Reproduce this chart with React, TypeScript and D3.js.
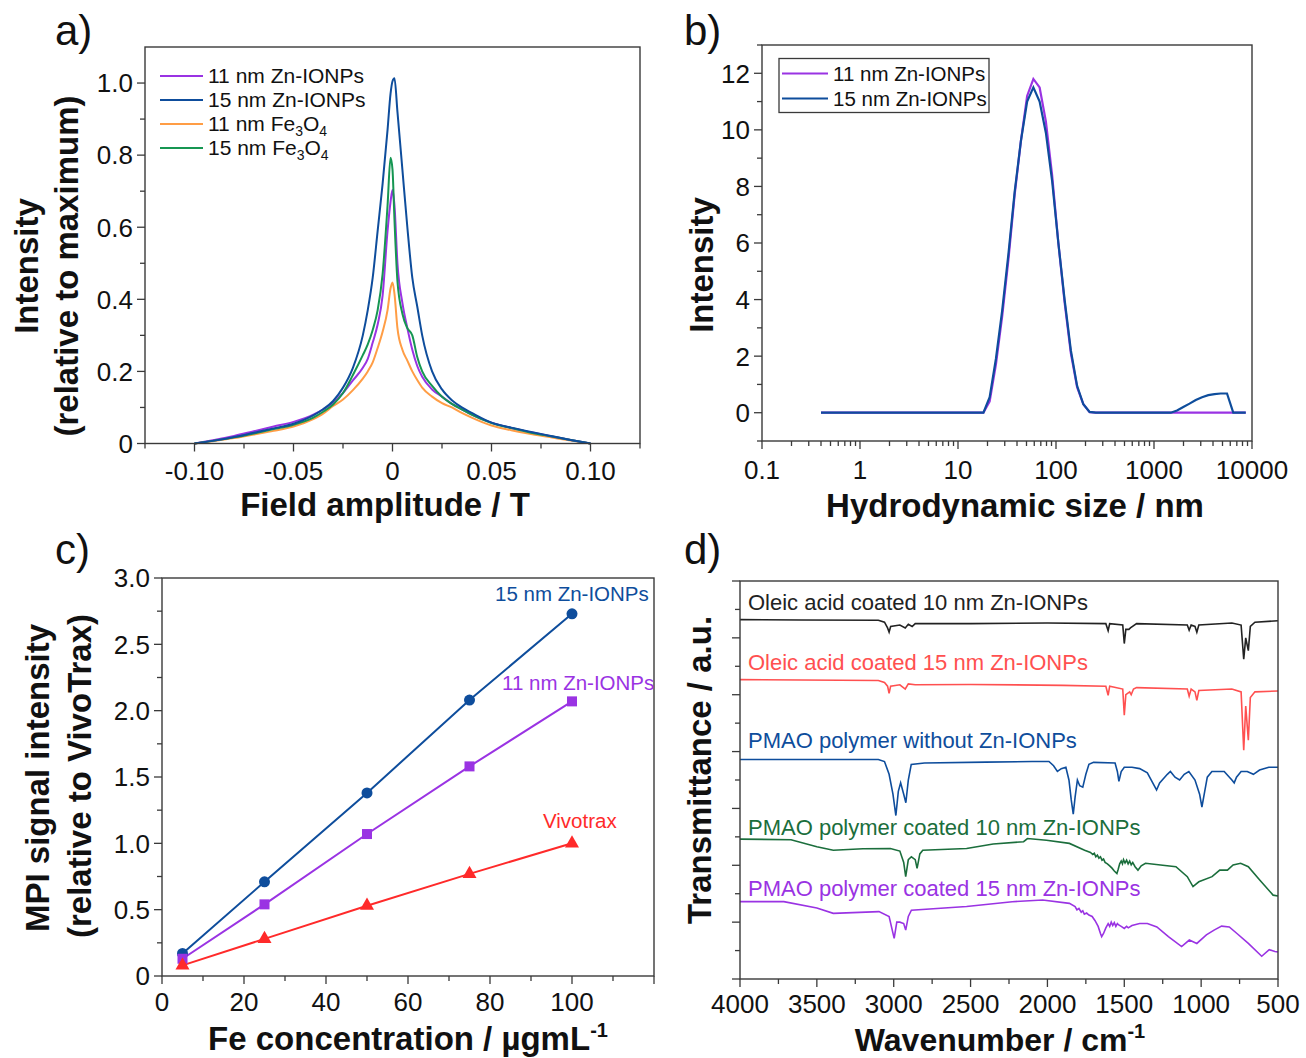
import React from 'react';
import * as d3 from 'd3';

const FONT = '"Liberation Sans", Arial, Helvetica, sans-serif';
const AXIS = '#3a3a3a';

// ---------- a) MPI point spread functions ----------
const fieldT = [-0.1, -0.09, -0.08, -0.07, -0.06, -0.05, -0.04, -0.035, -0.03, -0.025, -0.02, -0.015, -0.0125, -0.01, -0.0075, -0.005, -0.0025, -0.001, 0, 0.001, 0.0025, 0.005, 0.0075, 0.01, 0.0125, 0.015, 0.02, 0.025, 0.03, 0.035, 0.04, 0.05, 0.06, 0.07, 0.08, 0.09, 0.1];
const psfZn11 = [0, 0.01, 0.021, 0.034, 0.047, 0.06, 0.08, 0.095, 0.113, 0.14, 0.175, 0.21, 0.235, 0.28, 0.33, 0.41, 0.59, 0.67, 0.703, 0.66, 0.5, 0.39, 0.32, 0.26, 0.215, 0.185, 0.15, 0.13, 0.11, 0.095, 0.08, 0.058, 0.043, 0.031, 0.02, 0.01, 0];
const psfZn15 = [0, 0.008, 0.018, 0.03, 0.042, 0.055, 0.078, 0.095, 0.118, 0.155, 0.21, 0.3, 0.37, 0.46, 0.59, 0.72, 0.87, 0.97, 1.005, 1.013, 0.92, 0.76, 0.6, 0.46, 0.38, 0.3, 0.2, 0.15, 0.12, 0.1, 0.085, 0.058, 0.044, 0.032, 0.021, 0.01, 0];
const psfFe11 = [0, 0.007, 0.015, 0.025, 0.035, 0.047, 0.068, 0.083, 0.104, 0.122, 0.148, 0.18, 0.2, 0.225, 0.265, 0.31, 0.37, 0.43, 0.447, 0.415, 0.32, 0.26, 0.23, 0.2, 0.176, 0.155, 0.13, 0.112, 0.1, 0.085, 0.072, 0.05, 0.037, 0.026, 0.017, 0.008, 0];
const psfFe15 = [0, 0.008, 0.017, 0.028, 0.04, 0.052, 0.072, 0.088, 0.108, 0.14, 0.19, 0.245, 0.275, 0.315, 0.37, 0.47, 0.66, 0.793, 0.76, 0.62, 0.45, 0.36, 0.32, 0.3, 0.24, 0.2, 0.16, 0.13, 0.11, 0.095, 0.08, 0.057, 0.043, 0.03, 0.02, 0.01, 0];
const aXTicks = [-0.1, -0.05, 0, 0.05, 0.1];
const aXLabels = ['-0.10', '-0.05', '0', '0.05', '0.10'];
const aYTicks = [0, 0.2, 0.4, 0.6, 0.8, 1.0];
const aYLabels = ['0', '0.2', '0.4', '0.6', '0.8', '1.0'];

// ---------- b) DLS size distribution ----------
const sizeNm = [0.4, 18.17, 21.04, 24.36, 28.21, 32.67, 37.84, 43.82, 50.75, 58.77, 68.06, 78.82, 91.28, 105.7, 122.4, 141.8, 164.2, 190.1, 220.2, 255.0, 1484, 1718, 1990, 2305, 2669, 3091, 3580, 4145, 4801, 5560, 6439, 8635];
const dlsZn11 = [0, 0, 0.4, 1.7, 3.4, 5.4, 7.7, 9.6, 11.2, 11.8, 11.5, 10.3, 8.4, 6.0, 3.9, 2.1, 0.9, 0.3, 0.02, 0, 0, 0, 0, 0, 0, 0, 0, 0, 0, 0, 0, 0];
const dlsZn15 = [0, 0, 0.55, 1.9, 3.6, 5.6, 7.8, 9.6, 11.0, 11.5, 11.0, 9.9, 8.2, 6.0, 4.0, 2.2, 0.95, 0.3, 0.03, 0, 0, 0.08, 0.2, 0.32, 0.45, 0.55, 0.62, 0.66, 0.68, 0.68, 0, 0];
const bXTicks = [0.1, 1, 10, 100, 1000, 10000];
const bXLabels = ['0.1', '1', '10', '100', '1000', '10000'];
const bYTicks = [0, 2, 4, 6, 8, 10, 12];

// ---------- c) MPI signal vs Fe concentration ----------
const feConc = [5, 25, 50, 75, 100];
const mpiZn15 = [0.17, 0.71, 1.38, 2.08, 2.73];
const mpiZn11 = [0.13, 0.54, 1.07, 1.58, 2.07];
const mpiVivo = [0.08, 0.28, 0.53, 0.77, 1.0];
const cXTicks = [0, 20, 40, 60, 80, 100];
const cYTicks = [0, 0.5, 1.0, 1.5, 2.0, 2.5, 3.0];
const cYLabels = ['0', '0.5', '1.0', '1.5', '2.0', '2.5', '3.0'];

// ---------- d) FTIR spectra [wavenumber, offset transmittance] ----------
const ftirOleic10: [number, number][] = [[4000, 12.64], [3600, 12.63], [3100, 12.62], [3060, 12.55], [3040, 12.35], [3030, 12.2], [3020, 12.4], [2960, 12.45], [2925, 12.35], [2905, 12.48], [2880, 12.4], [2860, 12.5], [2500, 12.5], [2000, 12.52], [1620, 12.5], [1605, 12.25], [1595, 12.5], [1510, 12.45], [1500, 11.8], [1490, 12.3], [1470, 12.3], [1460, 12.35], [1420, 12.5], [1090, 12.45], [1078, 12.27], [1065, 12.45], [1040, 12.4], [1028, 12.2], [1015, 12.45], [800, 12.52], [740, 12.45], [723, 11.25], [710, 12.0], [693, 11.55], [680, 12.4], [650, 12.55], [500, 12.6]];
const ftirOleic15: [number, number][] = [[4000, 10.53], [3600, 10.52], [3100, 10.5], [3060, 10.43], [3040, 10.3], [3030, 10.05], [3020, 10.3], [2960, 10.35], [2925, 10.2], [2905, 10.38], [2860, 10.35], [2500, 10.36], [1900, 10.33], [1620, 10.3], [1605, 9.98], [1595, 10.3], [1510, 10.2], [1500, 9.28], [1490, 10.0], [1465, 10.1], [1455, 10.0], [1440, 10.2], [1420, 10.25], [1090, 10.2], [1078, 9.95], [1065, 10.2], [1040, 10.1], [1028, 9.8], [1015, 10.15], [800, 10.2], [740, 10.1], [723, 8.05], [710, 9.6], [693, 8.4], [680, 9.9], [650, 10.1], [500, 10.13]];
const ftirPmao: [number, number][] = [[4000, 7.72], [3100, 7.72], [3060, 7.65], [3030, 7.2], [3005, 6.5], [2986, 5.75], [2970, 6.6], [2955, 6.9], [2935, 6.5], [2921, 6.2], [2905, 7.0], [2886, 7.55], [2800, 7.6], [2400, 7.63], [2100, 7.65], [1990, 7.65], [1960, 7.5], [1935, 7.3], [1910, 7.4], [1880, 7.45], [1860, 7.0], [1845, 6.3], [1832, 5.8], [1820, 6.4], [1805, 7.0], [1790, 6.8], [1770, 6.75], [1750, 7.2], [1730, 7.55], [1700, 7.62], [1560, 7.6], [1545, 7.3], [1535, 6.95], [1520, 7.3], [1500, 7.45], [1450, 7.45], [1400, 7.4], [1350, 7.25], [1300, 6.75], [1290, 6.65], [1270, 6.9], [1220, 7.2], [1200, 7.3], [1170, 7.1], [1140, 7.0], [1110, 7.2], [1080, 7.3], [1040, 7.0], [1010, 6.5], [995, 6.05], [980, 6.5], [960, 7.1], [930, 7.3], [850, 7.3], [800, 7.0], [785, 6.9], [770, 7.1], [740, 7.3], [700, 7.3], [660, 7.2], [620, 7.35], [560, 7.45], [500, 7.45]];
const ftirPmao10: [number, number][] = [[4000, 4.92], [3668, 4.9], [3500, 4.65], [3393, 4.53], [3200, 4.58], [3022, 4.59], [2960, 4.5], [2935, 4.1], [2922, 3.6], [2905, 4.2], [2885, 4.3], [2860, 4.2], [2848, 3.89], [2830, 4.4], [2811, 4.53], [2526, 4.59], [2353, 4.75], [2155, 4.83], [2130, 4.94], [2006, 4.88], [1857, 4.77], [1758, 4.53], [1720, 4.45], [1705, 4.38], [1695, 4.42], [1685, 4.3], [1675, 4.36], [1665, 4.25], [1655, 4.3], [1645, 4.18], [1635, 4.22], [1625, 4.1], [1610, 4.05], [1595, 3.98], [1580, 3.9], [1565, 3.8], [1548, 3.71], [1540, 3.85], [1530, 4.05], [1520, 4.15], [1512, 4.05], [1505, 4.2], [1495, 4.08], [1485, 4.18], [1475, 4.05], [1465, 4.15], [1455, 4.02], [1445, 4.1], [1430, 3.95], [1411, 3.83], [1390, 3.98], [1362, 4.07], [1250, 4.0], [1164, 3.95], [1090, 3.6], [1053, 3.25], [1015, 3.42], [929, 3.6], [879, 3.83], [829, 3.83], [792, 4.01], [743, 4.07], [693, 3.95], [619, 3.48], [532, 2.95], [500, 2.92]];
const ftirPmao15: [number, number][] = [[4000, 2.72], [3715, 2.72], [3500, 2.5], [3393, 2.31], [3096, 2.37], [3030, 2.2], [2997, 1.43], [2980, 2.0], [2960, 2.0], [2935, 1.95], [2922, 1.72], [2905, 2.2], [2885, 2.42], [2526, 2.55], [2229, 2.72], [2031, 2.78], [1857, 2.66], [1820, 2.55], [1808, 2.43], [1795, 2.48], [1780, 2.35], [1770, 2.4], [1760, 2.28], [1745, 2.32], [1730, 2.25], [1709, 2.2], [1690, 2.05], [1670, 1.85], [1655, 1.6], [1647, 1.49], [1635, 1.6], [1620, 1.8], [1605, 1.95], [1595, 1.85], [1585, 2.0], [1575, 1.88], [1565, 1.98], [1555, 1.85], [1545, 1.95], [1536, 1.9], [1520, 1.85], [1500, 1.78], [1485, 1.85], [1474, 1.8], [1450, 1.88], [1400, 1.95], [1350, 1.95], [1288, 1.83], [1213, 1.49], [1127, 1.14], [1077, 1.37], [1028, 1.25], [966, 1.55], [916, 1.72], [867, 1.86], [817, 1.83], [767, 1.6], [693, 1.25], [606, 0.8], [557, 1.03], [520, 0.97], [500, 0.95]];
const dXTicks = [4000, 3500, 3000, 2500, 2000, 1500, 1000, 500];

const C = {
  purple: '#9a33e3',
  blue: '#0e4d9c',
  orange: '#ff9d45',
  green: '#169652',
  red: '#ff2a2a',
  dRed: '#ff5050',
  dGreen: '#1b6e3c',
  black: '#222222',
};

type Sc = (v: number) => number;

function Frame({ x0, x1, y0, y1 }: { x0: number; x1: number; y0: number; y1: number }) {
  return <rect x={x0} y={y0} width={x1 - x0} height={y1 - y0} fill="none" stroke={AXIS} strokeWidth={1.4} />;
}

function BottomAxis({ sx, y, major, minor, labels, offset }: { sx: Sc; y: number; major: number[]; minor: number[]; labels?: string[]; offset: number }) {
  return (
    <g>
      {minor.map((v) => <line key={'m' + v} x1={sx(v)} x2={sx(v)} y1={y} y2={y + 5} stroke={AXIS} strokeWidth={1.3} />)}
      {major.map((v, i) => (
        <g key={'M' + v}>
          <line x1={sx(v)} x2={sx(v)} y1={y} y2={y + 8} stroke={AXIS} strokeWidth={1.3} />
          {labels && <text x={sx(v)} y={y + offset} textAnchor="middle" fontSize={26} fill="#111">{labels[i]}</text>}
        </g>
      ))}
    </g>
  );
}

function LeftAxis({ sy, x, major, minor, labels }: { sy: Sc; x: number; major: number[]; minor: number[]; labels?: string[] }) {
  return (
    <g>
      {minor.map((v) => <line key={'m' + v} x1={x - 5} x2={x} y1={sy(v)} y2={sy(v)} stroke={AXIS} strokeWidth={1.3} />)}
      {major.map((v, i) => (
        <g key={'M' + v}>
          <line x1={x - 8} x2={x} y1={sy(v)} y2={sy(v)} stroke={AXIS} strokeWidth={1.3} />
          {labels && <text x={x - 12} y={sy(v)} dy="0.36em" textAnchor="end" fontSize={26} fill="#111">{labels[i]}</text>}
        </g>
      ))}
    </g>
  );
}

function VTitle({ x, y, children }: { x: number; y: number; children: React.ReactNode }) {
  return <text transform={`translate(${x},${y}) rotate(-90)`} textAnchor="middle" fontSize={33} fontWeight="bold" fill="#111">{children}</text>;
}

function FeO({ n1, n2 }: { n1: string; n2: string }) {
  return (
    <>
      Fe<tspan fontSize={14} dy={5}>{n1}</tspan><tspan dy={-5}>O</tspan><tspan fontSize={14} dy={5}>{n2}</tspan>
    </>
  );
}

export default function App() {
  // panel a
  const ax = d3.scaleLinear().domain([-0.125, 0.125]).range([145, 640]);
  const ay = d3.scaleLinear().domain([0, 1.1]).range([443.5, 47]);
  const aLine = (vals: number[]) =>
    d3.line<number>().x((_, i) => ax(fieldT[i])).y((d) => ay(d)).curve(d3.curveMonotoneX)(vals) || '';
  const aMinorX = d3.range(-5, 6).map((k) => k * 0.025).filter((v) => Math.abs(Math.round(v * 1000) % 50) !== 0);
  const aMinorY = [0.1, 0.3, 0.5, 0.7, 0.9];
  const aSeries = [
    { vals: psfFe11, color: C.orange },
    { vals: psfZn11, color: C.purple },
    { vals: psfFe15, color: C.green },
    { vals: psfZn15, color: C.blue },
  ];
  const aLegend = [
    { color: C.purple, label: <>11 nm Zn-IONPs</> },
    { color: C.blue, label: <>15 nm Zn-IONPs</> },
    { color: C.orange, label: <>11 nm <FeO n1="3" n2="4" /></> },
    { color: C.green, label: <>15 nm <FeO n1="3" n2="4" /></> },
  ];

  // panel b
  const bx = d3.scaleLog().domain([0.1, 10000]).range([762, 1252]);
  const by = d3.scaleLinear().domain([-1, 13]).range([441, 45]);
  const bLine = (vals: number[]) =>
    d3.line<number>().x((_, i) => bx(sizeNm[i])).y((d) => by(d))(vals) || '';
  const bMinorX: number[] = [];
  bXTicks.slice(0, -1).forEach((dec) => { for (let m = 2; m <= 9; m++) bMinorX.push(dec * m); });
  const bMinorY = [-1, 1, 3, 5, 7, 9, 11, 13];

  // panel c
  const cx = d3.scaleLinear().domain([0, 120]).range([162, 654]);
  const cy = d3.scaleLinear().domain([0, 3]).range([976, 578]);
  const cLine = (vals: number[]) =>
    d3.line<number>().x((_, i) => cx(feConc[i])).y((d) => cy(d))(vals) || '';
  const cMinorX = [10, 30, 50, 70, 90, 110];
  const cMajorXAll = [...cXTicks, 120];
  const cMinorY = [0.25, 0.75, 1.25, 1.75, 2.25, 2.75];
  const tri = d3.symbol(d3.symbolTriangle, 85)() || '';

  // panel d
  const dx = d3.scaleLinear().domain([4000, 500]).range([740, 1278]);
  const dy = d3.scaleLinear().domain([0, 14]).range([979, 581]);
  const dLine = (pts: [number, number][]) =>
    d3.line<[number, number]>().x((p) => dx(p[0])).y((p) => dy(p[1]))(pts) || '';
  const dMinorX = [3750, 3250, 2750, 2250, 1750, 1250, 750];
  const dMajorY = [0, 2, 4, 6, 8, 10, 12, 14];
  const dMinorY = [1, 3, 5, 7, 9, 11, 13];
  const dSeries = [
    { pts: ftirOleic10, color: C.black, label: 'Oleic acid coated 10 nm Zn-IONPs', ly: 610 },
    { pts: ftirOleic15, color: C.dRed, label: 'Oleic acid coated 15 nm Zn-IONPs', ly: 670 },
    { pts: ftirPmao, color: C.blue, label: 'PMAO polymer without Zn-IONPs', ly: 748 },
    { pts: ftirPmao10, color: C.dGreen, label: 'PMAO polymer coated 10 nm Zn-IONPs', ly: 835 },
    { pts: ftirPmao15, color: C.purple, label: 'PMAO polymer coated 15 nm Zn-IONPs', ly: 896 },
  ];

  return (
    <svg width={1306} height={1058} style={{ position: 'absolute', left: 0, top: 0, background: '#fff' }} fontFamily={FONT}>
      <rect width={1306} height={1058} fill="#fff" />

      {/* ---------------- a ---------------- */}
      <text x={55} y={45} fontSize={42} fill="#111">a)</text>
      {aSeries.map((s, i) => <path key={i} d={aLine(s.vals)} fill="none" stroke={s.color} strokeWidth={2} />)}
      <Frame x0={145} x1={640} y0={47} y1={443.5} />
      <BottomAxis sx={ax} y={443.5} major={aXTicks} minor={aMinorX} labels={aXLabels} offset={36} />
      <LeftAxis sy={ay} x={145} major={aYTicks} minor={aMinorY} labels={aYLabels} />
      {aLegend.map((l, i) => (
        <g key={i}>
          <line x1={160} x2={203} y1={76 + i * 24} y2={76 + i * 24} stroke={l.color} strokeWidth={2} />
          <text x={208} y={76 + i * 24} dy="0.35em" fontSize={21} fill="#111">{l.label}</text>
        </g>
      ))}
      <VTitle x={38} y={266}>Intensity</VTitle>
      <VTitle x={78} y={266}>(relative to maximum)</VTitle>
      <text x={385} y={516} textAnchor="middle" fontSize={33} fontWeight="bold" fill="#111">Field amplitude / T</text>

      {/* ---------------- b ---------------- */}
      <text x={684} y={45} fontSize={42} fill="#111">b)</text>
      <path d={bLine(dlsZn11)} fill="none" stroke={C.purple} strokeWidth={2.2} />
      <path d={bLine(dlsZn15)} fill="none" stroke={C.blue} strokeWidth={2.2} />
      <Frame x0={762} x1={1252} y0={45} y1={441} />
      <BottomAxis sx={bx} y={441} major={bXTicks} minor={bMinorX} labels={bXLabels} offset={38} />
      <LeftAxis sy={by} x={762} major={bYTicks} minor={bMinorY} labels={bYTicks.map(String)} />
      <rect x={779} y={58.5} width={210} height={54} fill="#fff" stroke={AXIS} strokeWidth={1.3} />
      {[{ c: C.purple, t: '11 nm Zn-IONPs' }, { c: C.blue, t: '15 nm Zn-IONPs' }].map((l, i) => (
        <g key={i}>
          <line x1={782} x2={828} y1={73.5 + i * 25} y2={73.5 + i * 25} stroke={l.c} strokeWidth={2.2} />
          <text x={833} y={73.5 + i * 25} dy="0.35em" fontSize={20.5} fill="#111">{l.t}</text>
        </g>
      ))}
      <VTitle x={713} y={265}>Intensity</VTitle>
      <text x={1015} y={517} textAnchor="middle" fontSize={33} fontWeight="bold" fill="#111">Hydrodynamic size / nm</text>

      {/* ---------------- c ---------------- */}
      <text x={55} y={564} fontSize={42} fill="#111">c)</text>
      <path d={cLine(mpiZn15)} fill="none" stroke={C.blue} strokeWidth={2} />
      <path d={cLine(mpiZn11)} fill="none" stroke={C.purple} strokeWidth={2} />
      <path d={cLine(mpiVivo)} fill="none" stroke={C.red} strokeWidth={2} />
      {feConc.map((f, i) => (
        <g key={f}>
          <circle cx={cx(f)} cy={cy(mpiZn15[i])} r={5.5} fill={C.blue} />
          <rect x={cx(f) - 5} y={cy(mpiZn11[i]) - 5} width={10} height={10} fill={C.purple} />
          <path d={tri} transform={`translate(${cx(f)},${cy(mpiVivo[i])})`} fill={C.red} />
        </g>
      ))}
      <Frame x0={162} x1={654} y0={578} y1={976} />
      <BottomAxis sx={cx} y={976} major={cMajorXAll} minor={cMinorX} labels={[...cXTicks.map(String), '']} offset={35} />
      <LeftAxis sy={cy} x={162} major={cYTicks} minor={cMinorY} labels={cYLabels} />
      <text x={495} y={601} fontSize={20.5} fill={C.blue}>15 nm Zn-IONPs</text>
      <text x={502} y={690} fontSize={20.5} fill={C.purple}>11 nm Zn-IONPs</text>
      <text x={543} y={828} fontSize={20.5} fill={C.red}>Vivotrax</text>
      <VTitle x={49} y={778}>MPI signal intensity</VTitle>
      <VTitle x={91} y={776}>(relative to VivoTrax)</VTitle>
      <text x={408} y={1050} textAnchor="middle" fontSize={33} fontWeight="bold" fill="#111">
        Fe concentration / µgmL<tspan fontSize={20} dy={-13}>-1</tspan>
      </text>

      {/* ---------------- d ---------------- */}
      <text x={684} y={564} fontSize={42} fill="#111">d)</text>
      {dSeries.map((s, i) => (
        <g key={i}>
          <path d={dLine(s.pts)} fill="none" stroke={s.color} strokeWidth={1.6} />
          <text x={748} y={s.ly} fontSize={22} fill={s.color}>{s.label}</text>
        </g>
      ))}
      <Frame x0={740} x1={1278} y0={581} y1={979} />
      <BottomAxis sx={dx} y={979} major={dXTicks} minor={dMinorX} labels={dXTicks.map(String)} offset={34} />
      <LeftAxis sy={dy} x={740} major={dMajorY} minor={dMinorY} />
      <VTitle x={711} y={770}>Transmittance / a.u.</VTitle>
      <text x={1000} y={1051} textAnchor="middle" fontSize={32} fontWeight="bold" fill="#111">
        Wavenumber / cm<tspan fontSize={20} dy={-13}>-1</tspan>
      </text>
    </svg>
  );
}
